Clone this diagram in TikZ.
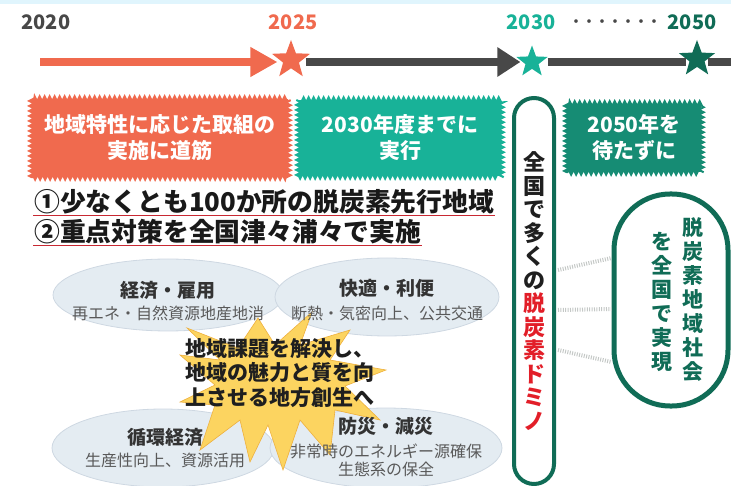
\documentclass[tikz,border=0pt]{standalone}
\usepackage{fontspec}
\setmainfont{Noto Sans CJK JP}
\usetikzlibrary{arrows.meta,positioning,shapes.geometric,decorations.pathmorphing,calc,backgrounds}
\definecolor{coral}{RGB}{240,106,78}
\definecolor{teal}{RGB}{24,178,152}
\definecolor{deepteal}{RGB}{22,140,116}
\definecolor{pine}{RGB}{16,108,86}
\definecolor{darkgray}{RGB}{72,72,72}
\definecolor{domred}{RGB}{226,30,40}
\definecolor{ulred}{RGB}{200,40,50}
\definecolor{ellfill}{RGB}{228,236,242}
\definecolor{ellline}{RGB}{206,216,226}
\definecolor{burst}{RGB}{252,212,96}
\definecolor{burstline}{RGB}{238,176,62}
\definecolor{hatchgray}{RGB}{196,200,198}
\newcommand{\fs}[2]{\fontsize{#1}{#2}\selectfont}
\newcommand{\rd}[1]{\textcolor{domred}{#1}}
\newcommand{\wavebox}[2]{%
  \begin{scope}[on background layer]
    \fill[#2] (#1.south west) rectangle (#1.north east);
    \draw[#2,line width=2pt,decorate,decoration={zigzag,segment length=5pt,amplitude=2.5pt}]
      (#1.south west) -- (#1.north west) -- (#1.north east) -- (#1.south east) -- cycle;
  \end{scope}%
}
\tikzset{
  year/.style={font=\fs{20}{20}\bfseries,inner sep=0pt},
  mstar/.style={star,star points=5,star point ratio=2.4,inner sep=0pt,minimum size=#1},
  tline/.style={line width=8pt,draw=darkgray},
  wavy/.style={text=white,font=\fs{21}{26}\bfseries,align=center,inner sep=0pt},
  numline/.style={font=\fs{25.8}{26}\bfseries,inner sep=1pt,anchor=west,text=black!90},
  uline/.style={draw=ulred,line width=1.4pt},
  ell/.style={ellipse,draw=ellline,fill=ellfill,line width=0.8pt,align=center,inner sep=0pt},
  etitle/.style={font=\fs{19}{19}\bfseries,text=black!80},
  esub/.style={font=\fs{16}{18},text=black!65,align=center},
  vert/.style={align=center,inner sep=0pt},
  hatch/.style={draw=hatchgray,line width=4pt,dash pattern=on 1pt off 1.4pt}
}
\begin{document}
\begin{tikzpicture}[x=1pt,y=-1pt]
  \useasboundingbox (0,0) rectangle (731,486);
  \fill[cyan!12] (0,0) rectangle (731,4);

  \node[year,text=darkgray] (y2020) at (46,22) {2020};
  \node[year,text=coral] (y2025) at (293,22) {2025};
  \node[year,text=teal] (y2030) at (531,22) {2030};
  \node[year,text=pine] (y2050) at (692,22) {2050};
  \node[year,text=darkgray,font=\fs{13}{13}\bfseries] (ydots) at (615,23) {・・・・・・・};

  \coordinate (t2020) at (40,62);
  \coordinate (tend) at (731,62);
  \node[mstar=40pt,fill=coral] (s2025) at (291,60) {};
  \node[mstar=33pt,fill=teal] (s2030) at (532,62) {};
  \node[mstar=38pt,fill=pine] (s2050) at (697,59) {};
  \draw[tline,draw=coral,-{Triangle[length=27pt,width=28pt]},shorten >=2pt] (t2020) -- (s2025.west |- t2020);
  \draw[tline,-{Triangle[length=23pt,width=28pt]},shorten >=2pt] ([xshift=3pt]s2025.east |- t2020) -- (s2030.west |- t2020);
  \draw[tline] ([xshift=6pt]s2030.east |- t2020) -- (s2050.west |- t2020);
  \draw[tline] (s2050.east |- t2020) -- (tend);

  \node[wavy,minimum width=256pt,minimum height=78pt] (road) at (160,138) {地域特性に応じた取組の\\実施に道筋};
  \node[wavy,minimum width=202pt,minimum height=76pt] (exec) at (400,138) {2030年度までに\\実行};
  \node[wavy,minimum width=134pt,minimum height=68pt] (early) at (634,138) {2050年を\\待たずに};
  \wavebox{road}{coral}
  \wavebox{exec}{teal}
  \wavebox{early}{deepteal}

  \node[numline] (num1) at (33,202) {①少なくとも100か所の脱炭素先行地域};
  \node[numline] (num2) at (33,232) {②重点対策を全国津々浦々で実施};
  \draw[uline] (num1.south west) -- (num1.south east);
  \draw[uline] (num2.south west) -- (num2.south east);

  \node[ell,minimum width=230pt,minimum height=72pt] (keizai) at (168,295) {};
  \node[ell,minimum width=224pt,minimum height=78pt] (kaiteki) at (387,297) {};
  \node[ell,minimum width=222pt,minimum height=78pt] (junkan) at (163,448) {};
  \node[ell,minimum width=232pt,minimum height=80pt] (bousai) at (386,448) {};

  \draw[fill=burst,draw=burstline,line width=0.6pt]
    (312,312) -- (300,345) -- (350,330) -- (330,360) -- (386,370) -- (345,386)
    -- (380,420) -- (335,410) -- (330,455) -- (300,420) -- (283,470) -- (268,425)
    -- (250,462) -- (240,420) -- (200,450) -- (215,405) -- (180,402) -- (215,385)
    -- (180,355) -- (220,360) -- (187,328) -- (238,348) -- (258,318) -- (275,345) -- cycle;

  \node[etitle] (keizaiT) at (168,290) {経済・雇用};
  \node[esub] (keizaiS) at (168,313) {再エネ・自然資源地産地消};
  \node[etitle] (kaitekiT) at (387,288) {快適・利便};
  \node[esub] (kaitekiS) at (387,313) {断熱・気密向上、公共交通};
  \node[etitle] (junkanT) at (165,437) {循環経済};
  \node[esub] (junkanS) at (165,460) {生産性向上、資源活用};
  \node[etitle] (bousaiT) at (386,426) {防災・減災};
  \node[esub] (bousaiS) at (386,460) {非常時のエネルギー源確保\\生態系の保全};

  \node[font=\fs{21}{24.5}\bfseries,align=left,anchor=north west,inner sep=0pt,text=black!88] (sousei) at (185,338) {地域課題を解決し、\\地域の魅力と質を向\\上させる地方創生へ};

  \node[draw=pine,line width=4pt,rounded corners=20pt,minimum width=40pt,minimum height=386pt,fill=white] (domino) at (534,291) {};
  \node[vert,font=\fs{22}{23.5}\bfseries,text=black!88] (dominoT) at (domino.center) {全\\国\\で\\多\\く\\の\\\rd{脱}\\\rd{炭}\\\rd{素}\\\rd{ド}\\\rd{ミ}\\\rd{ノ}};

  \node[draw=pine,line width=5pt,rounded corners=56pt,minimum width=114pt,minimum height=212pt] (oval) at (671,300) {};
  \node[vert,font=\fs{21}{24}\bfseries,text=pine] (ovalR) at (693,300) {脱\\炭\\素\\地\\域\\社\\会};
  \node[vert,font=\fs{21}{24}\bfseries,text=pine] (ovalL) at (662,302) {を\\全\\国\\で\\実\\現};

  \draw[hatch] ([yshift=21pt,xshift=2pt]domino.east) -- ([yshift=42pt]oval.west);
  \draw[hatch] ([yshift=-19pt,xshift=2pt]domino.east) -- ([yshift=-9pt]oval.west);
  \draw[hatch] ([yshift=-59pt,xshift=2pt]domino.east) -- ([yshift=-62pt]oval.west);
\end{tikzpicture}
\end{document}
